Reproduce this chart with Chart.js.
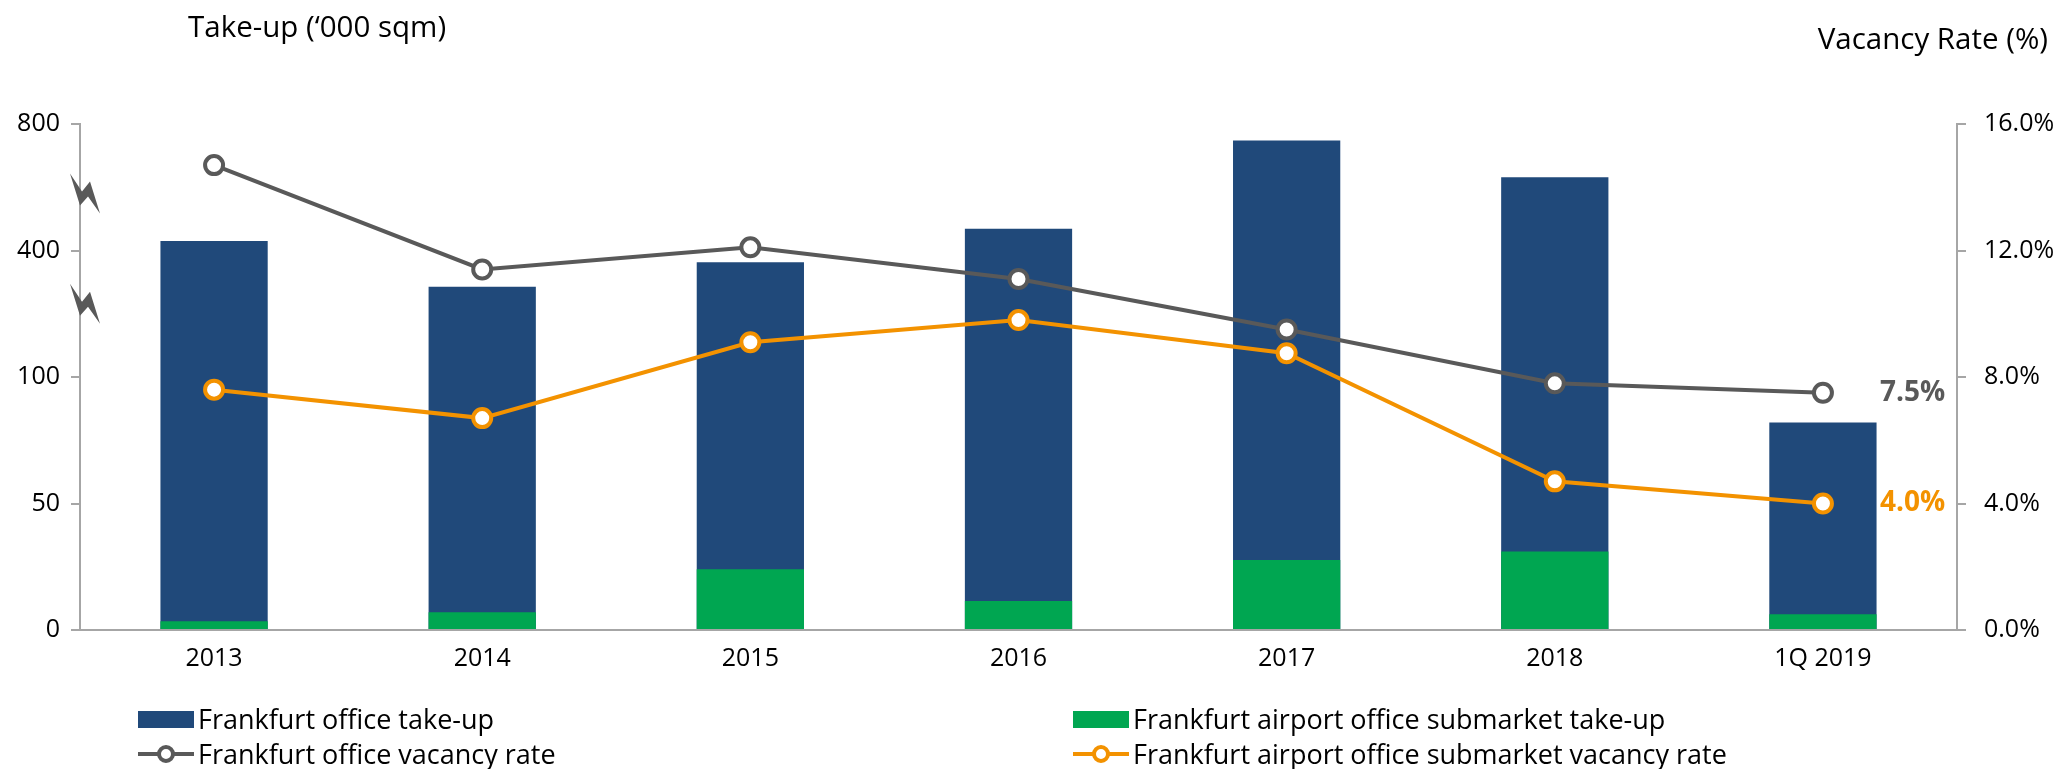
<!DOCTYPE html>
<html>
<head>
<meta charset="utf-8">
<script src="https://cdn.jsdelivr.net/npm/chart.js@4.4.1/dist/chart.umd.min.js"></script>
<style>
  html, body { margin: 0; padding: 0; background: #fff; }
  #wrap { position: relative; width: 2065px; height: 769px; font-family: "Open Sans", Lato, sans-serif; color: #000; }
  #chart { position: absolute; left: 0; top: 0; }
  .axis-title { position: absolute; font-size: 29.5px; line-height: 36px; white-space: nowrap; }
  .legend-item { position: absolute; display: flex; align-items: center; font-size: 27px; line-height: 30px; white-space: nowrap; }
  .swatch-box { width: 56px; height: 17px; margin-right: 4px; }
  .swatch-line { position: relative; width: 56px; height: 18px; margin-right: 4px; }
  .swatch-line::before { content: ''; position: absolute; left: 0; right: 0; top: 7px; height: 4px; background: var(--c); }
  .swatch-line::after { content: ''; position: absolute; left: 19px; top: 0; width: 10px; height: 10px; border: 4px solid var(--c); border-radius: 50%; background: #fff; }
</style>
</head>
<body>
<div id="wrap">
  <canvas id="chart" width="2065" height="769"></canvas>
  <div class="axis-title" style="left:188px; top:8px;">Take-up (‘000 sqm)</div>
  <div class="axis-title" style="right:17px; top:20px;">Vacancy Rate (%)</div>
  <div id="legend"></div>
</div>
<script>
// 値は画像から読み取った概算
const categories = ["2013", "2014", "2015", "2016", "2017", "2018", "1Q 2019"];
const officeTakeUp = [430, 314, 372, 469, 748, 632, 82];
const airportTakeUp = [3.5, 7, 24, 11.5, 27.7, 31, 6.2];
const officeVacancy = [14.7, 11.4, 12.1, 11.1, 9.5, 7.8, 7.5];
const airportVacancy = [7.6, 6.7, 9.1, 9.8, 8.75, 4.7, 4.0];

// 左軸は途中で省略された軸（0, 50, 100, 400, 800 が等間隔）
const takeUpTicks = [0, 50, 100, 400, 800];
const vacancyMax = 16;
const vacancyStep = 4;

const BLUE = "#20497A";
const GREEN = "#00A651";
const GREY = "#595959";
const ORANGE = "#F39200";
const AXIS = "#A6A6A6";

// 実際の値を省略軸上の位置（0〜4）に変換する
function toBrokenAxis(v) {
  for (let i = 0; i < takeUpTicks.length - 1; i++) {
    const a = takeUpTicks[i];
    const b = takeUpTicks[i + 1];
    if (v <= b) {
      return i + (v - a) / (b - a);
    }
  }
  return takeUpTicks.length - 1;
}

// 最後の点の右に値ラベルを描く
const lastValueLabels = {
  id: "lastValueLabels",
  afterDatasetsDraw(chart) {
    const ctx = chart.ctx;
    chart.data.datasets.forEach((ds, i) => {
      if (ds.type !== "line") {
        return;
      }
      const meta = chart.getDatasetMeta(i);
      const last = meta.data[meta.data.length - 1];
      const value = ds.data[ds.data.length - 1];
      ctx.save();
      ctx.font = "bold 28px 'Open Sans'";
      ctx.fillStyle = ds.borderColor;
      ctx.textAlign = "left";
      ctx.textBaseline = "middle";
      ctx.fillText(value.toFixed(1) + "%", last.x + 57, last.y);
      ctx.restore();
    });
  },
};

// 左軸の省略記号（稲妻形）
const axisBreaks = {
  id: "axisBreaks",
  afterDraw(chart) {
    const y = chart.scales.y;
    const ctx = chart.ctx;
    const cx = y.right + 5;
    [3.45, 2.58].forEach(v => {
      const cy = y.getPixelForValue(v);
      ctx.save();
      ctx.fillStyle = GREY;
      ctx.beginPath();
      ctx.moveTo(cx - 15, cy - 20);
      ctx.lineTo(cx - 3, cy - 2);
      ctx.lineTo(cx + 5, cy - 12);
      ctx.lineTo(cx + 15, cy + 20);
      ctx.lineTo(cx + 3, cy + 3);
      ctx.lineTo(cx - 5, cy + 12);
      ctx.closePath();
      ctx.fill();
      ctx.restore();
    });
  },
};

const tickFont = { family: "'Open Sans'", size: 25 };

const data = {
  labels: categories,
  datasets: [
    {
      type: "line",
      label: "Frankfurt office vacancy rate",
      data: officeVacancy,
      yAxisID: "y1",
      borderColor: GREY,
      borderWidth: 4,
      pointRadius: 9,
      pointBorderWidth: 4,
      pointBackgroundColor: "#fff",
      pointBorderColor: GREY,
      order: 0,
    },
    {
      type: "line",
      label: "Frankfurt airport office submarket vacancy rate",
      data: airportVacancy,
      yAxisID: "y1",
      borderColor: ORANGE,
      borderWidth: 4,
      pointRadius: 9,
      pointBorderWidth: 4,
      pointBackgroundColor: "#fff",
      pointBorderColor: ORANGE,
      order: 0,
    },
    {
      type: "bar",
      label: "Frankfurt airport office submarket take-up",
      data: airportTakeUp.map(toBrokenAxis),
      yAxisID: "y",
      backgroundColor: GREEN,
      grouped: false,
      order: 1,
    },
    {
      type: "bar",
      label: "Frankfurt office take-up",
      data: officeTakeUp.map(toBrokenAxis),
      yAxisID: "y",
      backgroundColor: BLUE,
      grouped: false,
      order: 2,
    },
  ],
};

const chart = new Chart(document.getElementById("chart"), {
  data,
  options: {
    responsive: false,
    animation: false,
    layout: { padding: { top: 124, bottom: 99, left: 0, right: 0 } },
    datasets: {
      bar: { categoryPercentage: 0.4, barPercentage: 1 },
    },
    scales: {
      x: {
        grid: { drawOnChartArea: false, drawTicks: false },
        border: { display: true, color: AXIS, width: 2 },
        ticks: { font: tickFont, color: "#000", padding: 14, maxRotation: 0 },
        afterFit: s => { s.height = 40; },
      },
      y: {
        position: "left",
        min: 0,
        max: takeUpTicks.length - 1,
        grid: { drawOnChartArea: false, tickLength: 9, color: AXIS, lineWidth: 2 },
        border: { display: true, color: AXIS, width: 2 },
        ticks: {
          stepSize: 1,
          font: tickFont,
          color: "#000",
          padding: 11,
          callback: v => takeUpTicks[v],
        },
        afterFit: s => { s.width = 80; },
      },
      y1: {
        position: "right",
        min: 0,
        max: vacancyMax,
        grid: { drawOnChartArea: false, tickLength: 9, color: AXIS, lineWidth: 2 },
        border: { display: true, color: AXIS, width: 2 },
        ticks: {
          stepSize: vacancyStep,
          font: tickFont,
          color: "#000",
          padding: 18,
          callback: v => v.toFixed(1) + "%",
        },
        afterFit: s => { s.width = 108; },
      },
    },
    plugins: {
      legend: { display: false },
      tooltip: { enabled: false },
    },
  },
  plugins: [lastValueLabels, axisBreaks],
});

// 凡例は2列の配置なのでHTMLで作る
const legendItems = [
  { ds: 3, left: 138, top: 704 },
  { ds: 2, left: 1073, top: 704 },
  { ds: 0, left: 138, top: 739 },
  { ds: 1, left: 1073, top: 739 },
];
const legendEl = document.getElementById("legend");
legendItems.forEach(item => {
  const ds = chart.data.datasets[item.ds];
  const el = document.createElement("div");
  el.className = "legend-item";
  el.style.left = item.left + "px";
  el.style.top = item.top + "px";
  const sw = document.createElement("span");
  if (ds.type === "bar") {
    sw.className = "swatch-box";
    sw.style.background = ds.backgroundColor;
  } else {
    sw.className = "swatch-line";
    sw.style.setProperty("--c", ds.borderColor);
  }
  el.appendChild(sw);
  el.appendChild(document.createTextNode(ds.label));
  legendEl.appendChild(el);
});
</script>
</body>
</html>
